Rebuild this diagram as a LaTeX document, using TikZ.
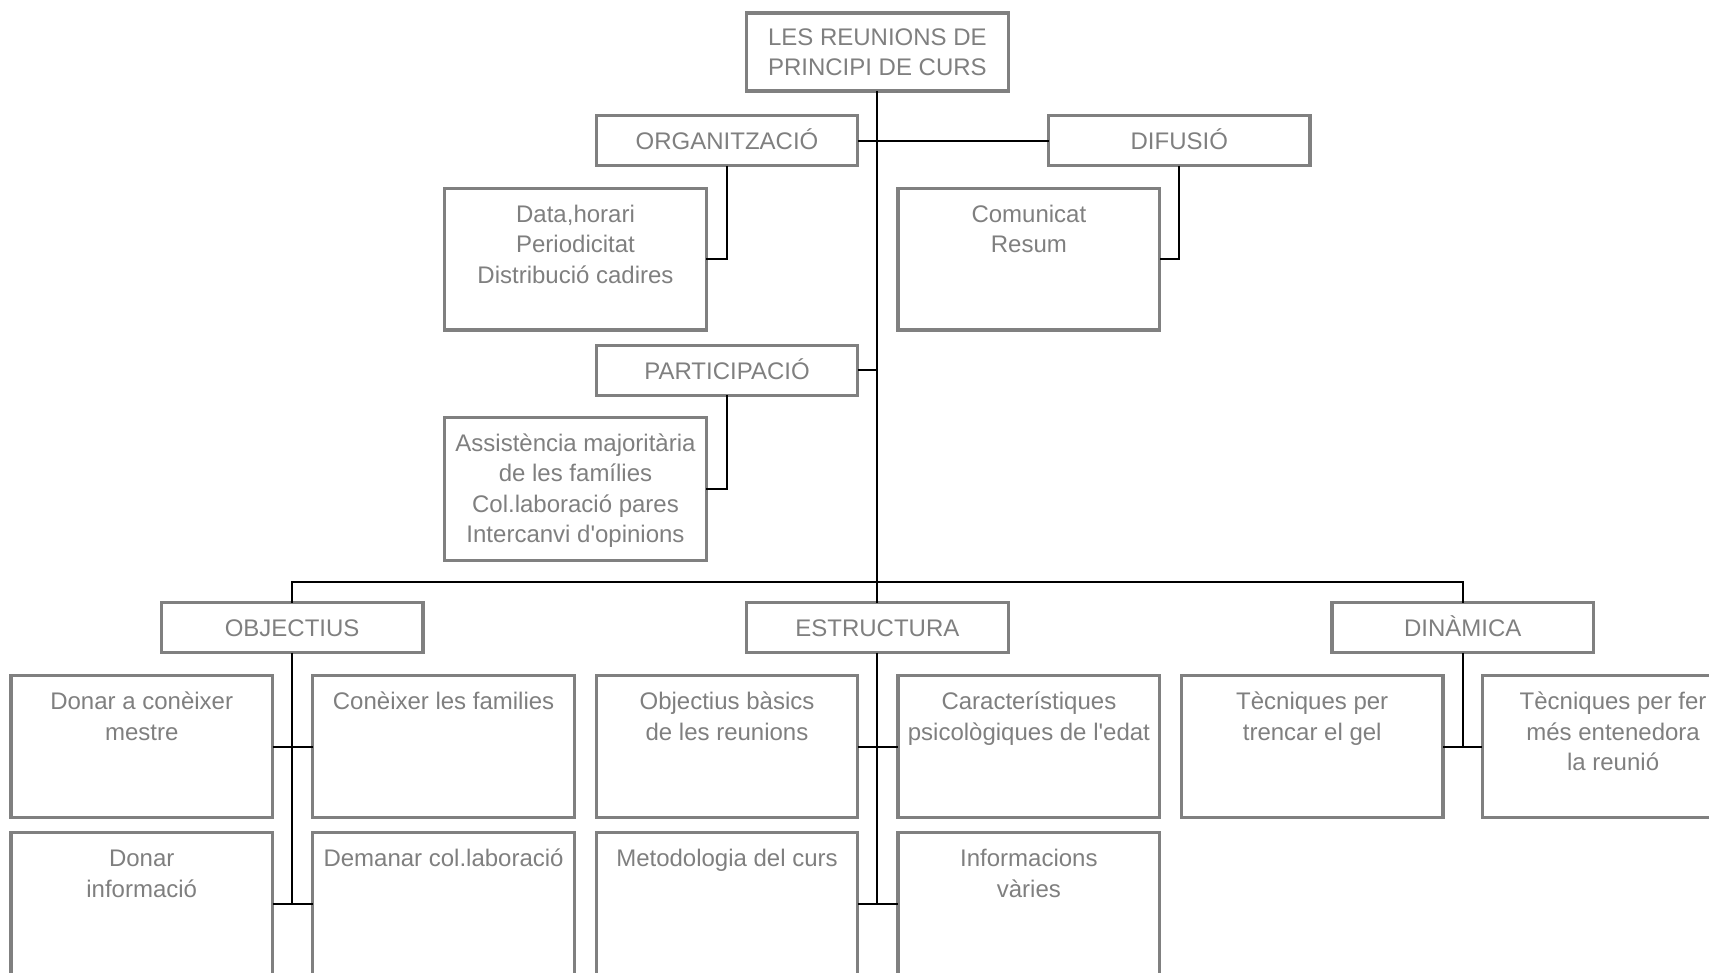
\documentclass[tikz,border=0pt]{standalone}
\usepackage{fontspec}
\defaultfontfeatures[\rmfamily]{}
\setmainfont{Liberation Sans}
\definecolor{bordergray}{HTML}{808080}
\definecolor{textgray}{HTML}{7F7F7F}
\newcommand\firstln{\rule{0pt}{20pt}}
\tikzset{
  box/.style={draw=bordergray, line width=3.3pt, minimum width=261.6pt, inner sep=0pt, outer sep=0pt},
  headbox/.style={box, minimum height=50pt, text=textgray, font=\fontsize{24}{30.5}\selectfont, align=center},
  onehead/.style={headbox, text height=17.2pt, text depth=0pt},
  cont/.style={box, minimum height=141.7pt},
  txt/.style={text=textgray, font=\fontsize{24}{30.5}\selectfont, align=center, inner sep=0pt, anchor=north},
  conn/.style={draw=black, line width=2pt}
}
\begin{document}
\begin{tikzpicture}[x=1pt,y=-1pt]
\useasboundingbox (0,0) rectangle (1709,973);
\clip (0,0) rectangle (1709,973);
% top level
\node[headbox, minimum height=78pt] (root) at (877.4,52) {LES REUNIONS DE\\PRINCIPI DE CURS};
\node[onehead] (org) at (727,140.6) {ORGANITZACIÓ};
\node[onehead] (dif) at (1179.3,140.6) {DIFUSIÓ};
\node[onehead] (part) at (727,370.5) {PARTICIPACIÓ};
\node[onehead] (obj) at (292.1,627.8) {OBJECTIUS};
\node[onehead] (estr) at (877.4,627.8) {ESTRUCTURA};
\node[onehead] (din) at (1462.7,627.8) {DINÀMICA};
% content boxes
\node[cont, minimum height=141.4pt] (data) at (575.5,259.3) {};
\node[txt] (datat) at (575.5,202.2) {\firstln Data,horari\\Periodicitat\\Distribució cadires};
\node[cont, minimum height=141.4pt] (com) at (1028.9,259.3) {};
\node[txt] (comt) at (1028.9,202.2) {\firstln Comunicat\\Resum};
\node[cont, minimum height=142.8pt] (ass) at (575.5,488.8) {};
\node[txt] (asst) at (575.5,431.2) {\firstln Assistència majoritària\\de les famílies\\Col.laboració pares\\Intercanvi d\textquotesingle opinions};
% row 1
\node[cont] (c11) at (141.7,746.5) {};
\node[txt] (c11t) at (141.7,689.3) {\firstln Donar a conèixer\\mestre};
\node[cont] (c12) at (443.6,746.5) {};
\node[txt] (c12t) at (443.6,689.3) {\firstln Conèixer les families};
\node[cont] (c13) at (727,746.5) {};
\node[txt] (c13t) at (727,689.3) {\firstln Objectius bàsics\\de les reunions};
\node[cont] (c14) at (1028.9,746.5) {};
\node[txt] (c14t) at (1028.9,689.3) {\firstln Característiques\\psicològiques de l\textquotesingle edat};
\node[cont] (c15) at (1312.2,746.5) {};
\node[txt] (c15t) at (1312.2,689.3) {\firstln Tècniques per\\trencar el gel};
\node[cont] (c16) at (1613.1,746.5) {};
\node[txt] (c16t) at (1613.1,689.3) {\firstln Tècniques per fer\\més entenedora\\la reunió};
% row 2
\node[cont] (c21) at (141.7,903.5) {};
\node[txt] (c21t) at (141.7,846.3) {\firstln Donar\\informació};
\node[cont] (c22) at (443.6,903.5) {};
\node[txt] (c22t) at (443.6,846.3) {\firstln Demanar col.laboració};
\node[cont] (c23) at (727,903.5) {};
\node[txt] (c23t) at (727,846.3) {\firstln Metodologia del curs};
\node[cont] (c24) at (1028.9,903.5) {};
\node[txt] (c24t) at (1028.9,846.3) {\firstln Informacions\\vàries};
% connectors
\coordinate (bus) at (877.4,582);
\draw[conn] (root.south) -- (estr.north);
\draw[conn] (org.east) -- (dif.west);
\draw[conn] (part.east) -- (part.east -| root.south);
\draw[conn] (org.south) |- (data.east);
\draw[conn] (dif.south) |- (com.east);
\draw[conn] (part.south) |- (ass.east);
\draw[conn] (obj.north) |- (bus) -| (din.north);
\draw[conn] (obj.south) -- (obj.south |- c21.east);
\draw[conn] (c11.east) -- (c12.west);
\draw[conn] (c21.east) -- (c22.west);
\draw[conn] (estr.south) -- (estr.south |- c23.east);
\draw[conn] (c13.east) -- (c14.west);
\draw[conn] (c23.east) -- (c24.west);
\draw[conn] (din.south) -- (din.south |- c15.east);
\draw[conn] (c15.east) -- (c16.west);
\end{tikzpicture}
\end{document}
